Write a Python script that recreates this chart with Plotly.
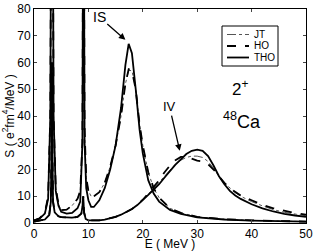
import plotly.graph_objects as go

# ---------------- data ----------------
# Isoscalar (IS) strength
E_IS = [0, 1, 2, 2.6, 3.0, 3.1, 3.3, 3.5, 3.6, 4.0, 4.5, 5, 6, 7, 8, 8.5, 8.9, 9.0, 9.1, 9.2, 9.3,
        9.6, 10, 10.5, 11, 12, 13, 14, 15, 16, 16.8, 17.4, 18, 18.7, 19.4, 20, 21, 22, 23, 25, 27,
        30, 35, 40, 45, 50]
S_IS_THO = [1.0, 1.6, 3.5, 9, 40, 100, 200, 100, 40, 12, 6.5, 4.2, 3.5, 3.8, 5.5, 8, 30, 100, 200, 100, 30,
            13, 8.5, 6, 6, 8.5, 13, 20, 29, 43, 59, 67, 63.5, 50, 35, 26, 16, 11, 8, 4.9, 3.4,
            2.1, 1.3, 0.9, 0.7, 0.5]
S_IS_HO = [1.0, 1.7, 3.8, 10, 40, 100, 200, 100, 40, 13, 7, 4.8, 5, 6.5, 9, 12, 30, 100, 200, 100, 35,
           17, 12, 10, 10, 11.5, 15, 21, 29, 40, 52, 57.5, 57, 50, 37, 29, 19, 13, 9.5, 5.5, 3.8,
           2.3, 1.4, 1.0, 0.7, 0.5]
S_IS_JT = [1.0, 1.7, 3.8, 10, 40, 100, 200, 100, 40, 13, 7, 4.8, 5, 6.5, 9, 12, 30, 100, 200, 100, 35,
           17, 12, 10, 10, 11.5, 15, 21, 29, 40, 52, 57, 57, 50, 37, 29, 19, 13, 9.5, 5.5, 3.8,
           2.3, 1.4, 1.0, 0.7, 0.5]

# Isovector (IV) strength
E_IV = [0, 1, 2, 2.8, 3.1, 3.2, 3.3, 3.4, 3.5, 3.8, 4.5, 5, 6, 7, 8, 8.7, 8.9, 9.05, 9.2, 9.5,
        10, 11, 12, 13, 14, 15, 16, 17, 18, 19, 20, 21, 22, 23, 24, 25, 26, 27, 28, 29, 30, 31,
        32, 33, 34, 35, 36, 37, 38, 40, 42, 44, 46, 48, 50]
S_IV_THO = [0.5, 0.8, 1.3, 3, 8, 25, 60, 25, 8, 4, 2.5, 2.2, 2.0, 2.0, 2.3, 3.5, 6, 10, 4, 1.5,
            1.0, 0.9, 1.0, 1.3, 1.7, 2.3, 3.1, 4.0, 5.2, 6.7, 8.5, 10.5, 12.5, 14.5, 17, 19.5, 21.8, 23.8, 25.8, 27.0, 27.4, 27.0,
            25.0, 21.5, 17.5, 14.5, 12.0, 10.3, 9.0, 7.0, 5.5, 4.3, 3.4, 2.8, 2.3]
S_IV_HO = [0.5, 0.8, 1.3, 3, 8, 25, 60, 25, 8, 4, 2.5, 2.2, 2.0, 2.0, 2.3, 3.5, 6, 10, 4, 1.5,
           1.0, 0.9, 1.0, 1.3, 1.7, 2.3, 3.1, 4.0, 5.2, 6.8, 8.7, 11, 13.5, 16, 19, 21.5, 23.5, 24.7, 24.8, 24.0, 23.3, 23.0,
           22.0, 20.0, 17.5, 15.0, 13.0, 11.5, 10.3, 8.5, 6.8, 5.5, 4.5, 3.7, 3.1]
S_IV_JT = [0.5, 0.8, 1.3, 3, 8, 25, 60, 25, 8, 4, 2.5, 2.2, 2.0, 2.0, 2.3, 3.5, 6, 10, 4, 1.5,
           1.0, 0.9, 1.0, 1.3, 1.7, 2.3, 3.1, 4.0, 5.2, 6.8, 8.7, 10.8, 13, 15.2, 17.5, 20, 22, 23.5, 24.5, 25, 25, 24.5,
           23.0, 20.5, 17.5, 15.0, 13.0, 11.3, 10.0, 8.0, 6.4, 5.0, 4.0, 3.3, 2.7]

series_names = ["JT", "HO", "THO"]
x_ticks = [0, 10, 20, 30, 40, 50]
y_ticks = [0, 10, 20, 30, 40, 50, 60, 70, 80]

# ---------------- figure ----------------
W, H = 316, 251
ML, MR, MT, MB = 34, 10, 9, 28
PW, PH = W - ML - MR, H - MT - MB


def px(xp):
    return (xp - ML) / PW


def py(yp):
    return 1 - (yp - MT) / PH


styles = {
    "JT": dict(color="#555555", width=1, dash="dashdot"),
    "HO": dict(color="black", width=1.8, dash="dash"),
    "THO": dict(color="black", width=1.8, dash="solid"),
}

fig = go.Figure()
for name, sis, siv in zip(series_names, [S_IS_JT, S_IS_HO, S_IS_THO], [S_IV_JT, S_IV_HO, S_IV_THO]):
    fig.add_trace(go.Scatter(x=E_IS, y=sis, mode="lines", name=name, line=styles[name],
                             legendgroup=name, showlegend=False))
    fig.add_trace(go.Scatter(x=E_IV, y=siv, mode="lines", name=name, line=styles[name],
                             legendgroup=name, showlegend=False))

FONT = "Liberation Sans, Arial, sans-serif"

fig.update_layout(
    width=W, height=H,
    margin=dict(l=ML, r=MR, t=MT, b=MB, autoexpand=False),
    paper_bgcolor="white", plot_bgcolor="white",
    font=dict(family=FONT, size=12, color="black"),
    showlegend=False,
)

fig.update_xaxes(range=[0, 50], tickvals=x_ticks, ticks="inside", ticklen=3,
                 showline=True, linecolor="black", linewidth=1, mirror="ticks",
                 showgrid=False, zeroline=False, automargin=False,
                 title=dict(text="E ( MeV )", standoff=3, font=dict(size=12)),
                 tickfont=dict(size=12))
fig.update_yaxes(range=[0, 80], tickvals=y_ticks, ticks="inside", ticklen=3,
                 showline=True, linecolor="black", linewidth=1, mirror="ticks",
                 showgrid=False, zeroline=False, automargin=False,
                 title=dict(text="S ( e<sup>2</sup>fm<sup>4</sup>/MeV )", standoff=0, font=dict(size=12)),
                 tickfont=dict(size=12))

# hand-drawn compact legend box
box = dict(x0=px(222), x1=px(278), y0=py(66), y1=py(26))
fig.add_shape(type="rect", xref="paper", yref="paper", **box,
              line=dict(color="black", width=1), fillcolor="white", layer="above")
rows = [34.5, 46, 57.5]
for name, yr in zip(series_names, rows):
    st = styles[name]
    fig.add_shape(type="line", xref="paper", yref="paper", x0=px(227), x1=px(249), y0=py(yr), y1=py(yr),
                  line=dict(color=st["color"], width=st["width"], dash=st["dash"]), layer="above")
    fig.add_annotation(x=px(252), y=py(yr), xref="paper", yref="paper", text=name, xanchor="left",
                       yanchor="middle", showarrow=False, font=dict(size=10))

fig.add_annotation(x=16.8, y=68.5, ax=12.0, ay=77, xref="x", yref="y", axref="x", ayref="y",
                   text="IS", showarrow=True, arrowhead=2, arrowsize=1, arrowwidth=1.3,
                   font=dict(size=14), arrowcolor="black")
fig.add_annotation(x=26.8, y=27, ax=24.9, ay=43.5, xref="x", yref="y", axref="x", ayref="y",
                   text="IV", showarrow=True, arrowhead=2, arrowsize=1, arrowwidth=1.3,
                   font=dict(size=13), arrowcolor="black")
fig.add_annotation(x=px(230), y=py(88), xref="paper", yref="paper", text="2<sup>+</sup>",
                   xanchor="left", showarrow=False, font=dict(size=17))
fig.add_annotation(x=px(221), y=py(120), xref="paper", yref="paper", text="<sup>48</sup>Ca",
                   xanchor="left", showarrow=False, font=dict(size=18))

fig.write_html("out.html", config={"displayModeBar": False},
               post_script="document.body.style.margin='0';document.body.style.padding='0';")
